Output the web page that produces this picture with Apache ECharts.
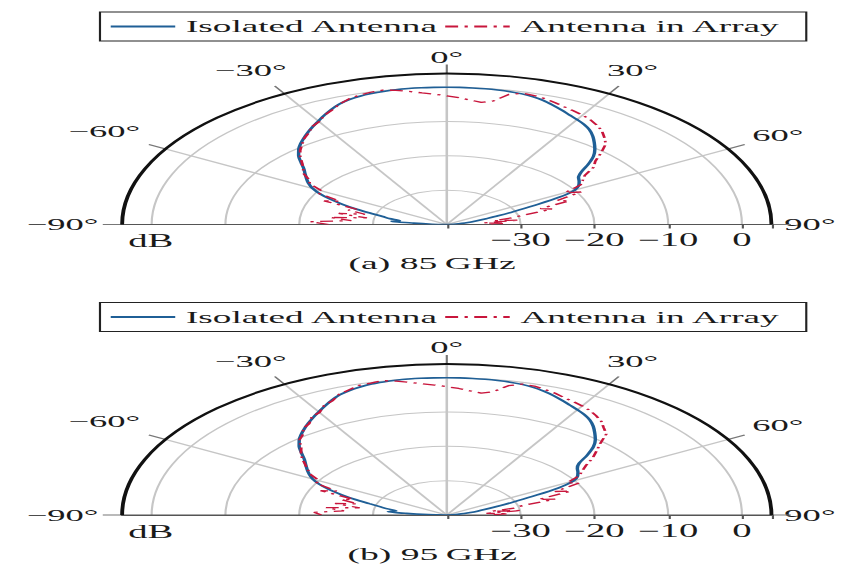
<!DOCTYPE html>
<html>
<head>
<meta charset="utf-8">
<script src="https://cdn.jsdelivr.net/npm/echarts@6/dist/echarts.min.js"></script>
<style>
html,body{margin:0;padding:0;background:#fff;overflow:hidden;}
#wrap{width:845px;height:571px;overflow:hidden;position:relative;background:#fff;}
#chart{width:393px;height:571px;transform:scaleX(2.1501);transform-origin:0 0;}
</style>
</head>
<body>
<div id="wrap"><div id="chart"></div></div>
<script>
// ---------------- data ----------------
const angles = [-90,-87.5,-85,-82.5,-80,-77.5,-75,-72.5,-70,-67.5,-65,-62.5,-60,-57.5,-55,-52.5,-50,-47.5,-45,-42.5,-40,-37.5,-35,-32.5,-30,-27.5,-25,-22.5,-20,-17.5,-15,-12.5,-10,-7.5,-5,-2.5,0,2.5,5,7.5,10,12.5,15,17.5,20,22.5,25,27.5,30,32.5,35,37.5,40,42.5,45,47.5,50,52.5,55,57.5,60,62.5,65,67.5,70,72.5,75,77.5,80,82.5,85,87.5,90];

const isolated85 = [-40,-38,-35.5,-32.5,-33.5,-32.0,-31.0,-29.3,-27.0,-24.8,-22.6,-20.6,-19.0,-17.8,-16.8,-15.8,-14.7,-13.2,-11.6,-10.3,-9.2,-8.2,-7.2,-6.2,-5.2,-4.1,-3.0,-2.0,-1.3,-0.8,-0.5,-0.3,-0.15,-0.05,0,0,0,0,-0.05,-0.1,-0.2,-0.35,-0.6,-1.0,-1.6,-2.4,-3.2,-4.0,-4.7,-5.4,-6.3,-7.5,-8.9,-10.3,-11.9,-14.0,-16.2,-17.5,-18.1,-18.8,-20.0,-22.8,-27.0,-30.2,-32.6,-34.4,-35.6,-36.6,-37.5,-38.4,-39.1,-39.6,-40];
const array85 = [-24,-21.5,-27,-24,-29,-25,-28.5,-26,-27,-22,-24,-20.5,-20.5,-18,-17.2,-15.5,-14.6,-13.4,-11.9,-10.6,-9.5,-8.3,-7.4,-6.1,-5.4,-4.1,-3.2,-2.0,-1.1,-0.5,-0.1,0.1,-0.3,-0.9,-1.5,-2.0,-2.5,-3.0,-3.6,-4.1,-3.4,-1.2,-0.4,-0.6,-1.0,-1.6,-2.2,-2.7,-3.2,-3.8,-4.6,-5.5,-6.8,-8.1,-10.4,-12.7,-14.0,-16.4,-17.5,-18.5,-21.5,-19.5,-23.5,-22.0,-26.5,-25.0,-29.0,-31.0,-33.5,-30.0,-35.0,-32.0,-34.0];

const isolated95 = [-40,-37.5,-34.5,-32.0,-33.0,-31.8,-30.6,-29.0,-26.8,-24.6,-22.4,-20.5,-19.0,-17.9,-16.9,-15.9,-14.8,-13.3,-11.7,-10.4,-9.3,-8.3,-7.3,-6.3,-5.3,-4.2,-3.1,-2.1,-1.4,-0.9,-0.5,-0.3,-0.15,-0.05,0,0,0,0,-0.05,-0.1,-0.2,-0.35,-0.6,-1.0,-1.6,-2.3,-3.1,-3.9,-4.6,-5.3,-6.2,-7.4,-8.8,-10.2,-11.9,-14.2,-16.6,-17.7,-18.3,-19.0,-20.2,-23.0,-27.2,-30.4,-32.8,-34.5,-35.7,-36.7,-37.6,-38.5,-39.2,-39.7,-40];
const array95 = [-23,-22,-26,-23.5,-28,-24.5,-27.5,-25,-26.5,-21.5,-23.5,-20,-20,-18.2,-17,-15.8,-14.4,-13.2,-12.1,-10.4,-9.6,-8.1,-7.5,-6.0,-5.5,-4.0,-3.3,-1.9,-1.2,-0.4,-0.2,0.1,-0.4,-1.0,-1.6,-2.1,-2.6,-3.1,-3.7,-4.2,-3.5,-1.4,-0.5,-0.6,-1.1,-1.6,-2.3,-2.8,-3.3,-3.9,-4.7,-5.6,-6.9,-8.0,-10.6,-12.5,-14.2,-16.2,-17.6,-18.7,-21.2,-19.8,-23.8,-21.8,-26.8,-24.6,-29.4,-30.6,-33.8,-29.6,-34.6,-31.6,-34.5];

const seriesNames = ['Isolated Antenna', 'Antenna in Array'];
const angleTicks = [-90,-60,-30,0,30,60,90];
const angleTickLabels = ['\u221290\u00b0','\u221260\u00b0','\u221230\u00b0','0\u00b0','30\u00b0','60\u00b0','90\u00b0'];
const dbTicks = [-30,-20,-10,0];
const dbTickLabels = ['\u221230','\u221220','\u221210','0'];
const captions = ['(a) 85\u2009GHz', '(b) 95\u2009GHz'];
const radiusUnit = 'dB';

// ---------------- layout / style ----------------
const FONT = '"Liberation Serif","Times New Roman",serif';
const BLUE = '#1f5f96';
const RED = '#c8163c';
const R = 151;
const CX = 207.8;
// per-label nudges (padding) for the angle tick labels
const anglePad = [[0,17,0,0],[0,17,12.5,0],[0,2,20,0],[0,0,14,0],[0,0,20,2],[0,0,8.5,16.5],[0,0,0,12]];
const angleRich = {};
anglePad.forEach((pd, i) => {
  angleRich['a' + i] = {padding: pd, fontFamily: FONT, fontSize: 17, color: '#1a1a1a'};
});

const panels = [
  {cy: 224.5, legendTop: 12, iso: isolated85, arr: array85, caption: captions[0]},
  {cy: 515, legendTop: 302.5, iso: isolated95, arr: array95, caption: captions[1]}
];

function pairs(vals) { return vals.map((v, i) => [v, angles[i]]); }
function angleFmt(v) {
  const i = angleTicks.indexOf(Math.round(v));
  return i >= 0 ? '{a' + i + '|' + angleTickLabels[i] + '}' : '';
}
function dbFmt(v) { const i = dbTicks.indexOf(Math.round(v)); return i >= 0 ? dbTickLabels[i] : ''; }

const polar = [], angleAxis = [], radiusAxis = [], series = [], legend = [], graphic = [];

panels.forEach((p, k) => {
  const main = polar.length;
  polar.push({center: [CX, p.cy], radius: R});
  polar.push({center: [CX, p.cy], radius: R});
  // main polar: angle -90 (left) .. 90 (right)
  angleAxis.push({
    polarIndex: main, type: 'value', min: -90, max: 90, interval: 30,
    startAngle: 180, endAngle: 0, clockwise: true,
    axisLine: {show: true, lineStyle: {color: '#111', width: 1.8}},
    axisTick: {show: true, length: 9, lineStyle: {color: '#777', width: 1}},
    axisLabel: {show: true, formatter: angleFmt, margin: -6, rich: angleRich,
      fontFamily: FONT, fontSize: 17, color: '#1a1a1a'},
    splitLine: {show: true, lineStyle: {color: ['#555','#c6c6c6','#c6c6c6','#c6c6c6','#c6c6c6','#c6c6c6','#555'], width: 1.2}}
  });
  radiusAxis.push({
    polarIndex: main, type: 'value', min: -40, max: 4, interval: 10,
    axisLine: {show: true, lineStyle: {color: '#555', width: 1.2}},
    axisTick: {show: false}, axisLabel: {show: false},
    splitLine: {show: true, lineStyle: {color: '#c6c6c6', width: 1}}
  });
  // helper polar: radius axis drawn to the right for dB labels
  angleAxis.push({
    polarIndex: main + 1, type: 'value', min: -90, max: 90, interval: 30,
    startAngle: 0, endAngle: 180, clockwise: false, show: false,
    axisLine: {show: false}, axisTick: {show: false}, axisLabel: {show: false}, splitLine: {show: false}
  });
  radiusAxis.push({
    polarIndex: main + 1, type: 'value', min: -40, max: 4, interval: 10,
    axisLine: {show: true, lineStyle: {color: '#555', width: 1.2}},
    axisTick: {show: true, length: -4, lineStyle: {color: '#555'}},
    axisLabel: {show: true, formatter: dbFmt, margin: -7, verticalAlign: 'top',
      fontFamily: FONT, fontSize: 18, color: '#1a1a1a'},
    splitLine: {show: false}
  });
  series.push({
    name: seriesNames[0], type: 'line', coordinateSystem: 'polar', polarIndex: main,
    data: pairs(p.iso), symbol: 'none', smooth: 0.3,
    lineStyle: {color: BLUE, width: 1.6}, itemStyle: {color: BLUE}, z: 3
  });
  series.push({
    name: seriesNames[1], type: 'line', coordinateSystem: 'polar', polarIndex: main,
    data: pairs(p.arr), symbol: 'none',
    lineStyle: {color: RED, width: 1.3, type: [6, 3, 1.5, 3]}, itemStyle: {color: RED}, z: 4
  });
  legend.push({
    data: seriesNames, left: 46.5, top: p.legendTop, orient: 'horizontal',
    itemWidth: 30, itemHeight: 10, itemGap: 2, padding: [6, 12, 6, 4],
    borderColor: '#222', borderWidth: 1, selectedMode: false,
    itemStyle: {opacity: 0, borderWidth: 0},
    textStyle: {fontFamily: FONT, fontSize: 17.3, color: '#1a1a1a'}
  });
  graphic.push({type: 'text', left: 71.6 - 12, top: p.cy + 8,
    style: {text: radiusUnit, font: '18px ' + FONT, fill: '#1a1a1a'}});
  graphic.push({type: 'text', x: 201, y: p.cy + 39,
    style: {text: p.caption, font: '17.5px ' + FONT, fill: '#1a1a1a', align: 'center', verticalAlign: 'middle'}});
});

const chart = echarts.init(document.getElementById('chart'), null, {renderer: 'svg'});
chart.setOption({
  animation: false,
  backgroundColor: '#fff',
  polar, angleAxis, radiusAxis, series, legend, graphic
});
</script>
</body>
</html>
